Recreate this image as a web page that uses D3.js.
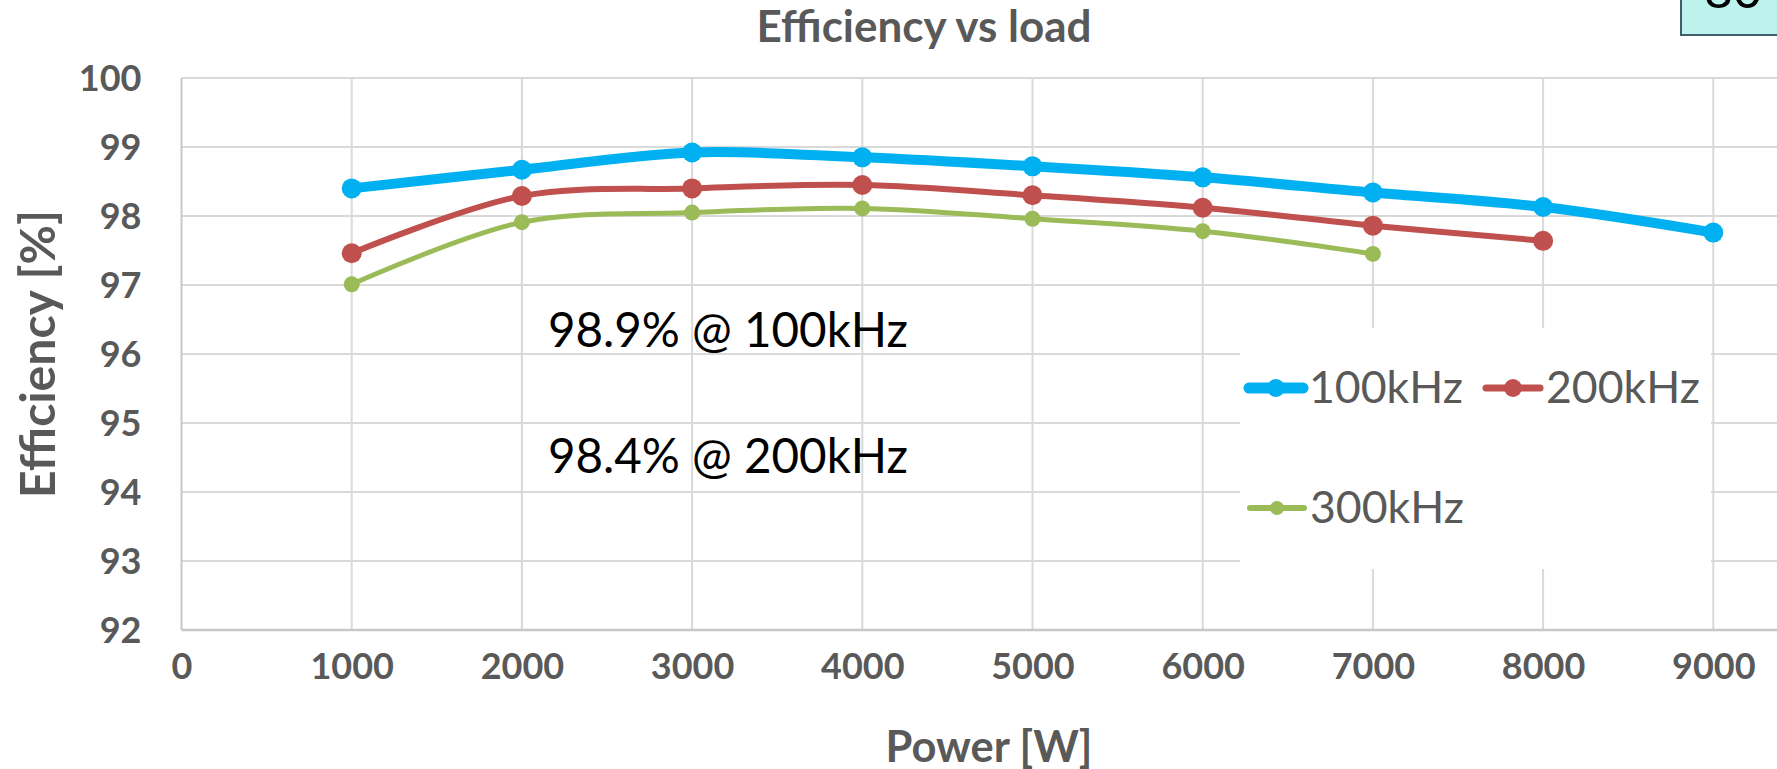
<!DOCTYPE html>
<html>
<head>
<meta charset="utf-8">
<script src="https://cdn.jsdelivr.net/npm/d3@7"></script>
<style>
  body { margin: 0; background: #fff; }
  svg { display: block; }
</style>
</head>
<body>
<div class="chart"></div>
<script>
// values
var powers = [1000, 2000, 3000, 4000, 5000, 6000, 7000, 8000, 9000];
var eff100 = [98.40, 98.67, 98.92, 98.85, 98.72, 98.56, 98.34, 98.13, 97.76];
var eff200 = [97.46, 98.29, 98.40, 98.45, 98.30, 98.12, 97.86, 97.64];
var eff300 = [97.01, 97.91, 98.05, 98.11, 97.96, 97.78, 97.45];
var seriesNames = ["100kHz", "200kHz", "300kHz"];
var xTicks = [0, 1000, 2000, 3000, 4000, 5000, 6000, 7000, 8000, 9000];
var yTicks = [92, 93, 94, 95, 96, 97, 98, 99, 100];
var notes = ["98.9% @ 100kHz", "98.4% @ 200kHz"];

var svgWidth = 1777;
var svgHeight = 769;

// plot box (window.top is taken, so use a margin object)
var plot = { left: 181.5, top: 78, bottom: 630 };
var colors = ["#00B0F0", "#C0504D", "#9BBB59"];
var widths = [10, 6, 5];
var radii = [10, 10, 8];
var gray = "#595959";

var svg = d3.select(".chart")
  .append("svg")
  .attr("width", svgWidth)
  .attr("height", svgHeight);

// shrink/grow a text so it takes the given width
function fit(sel, w) {
  var size = +sel.attr("font-size");
  var len = sel.node().getComputedTextLength();
  sel.attr("font-size", size * w / len);
  return sel;
}

var x = d3.scaleLinear()
  .domain([0, 10000])
  .range([plot.left, plot.left + 1702]);

var y = d3.scaleLinear()
  .domain([92, 100])
  .range([plot.bottom, plot.top]);

// grid
svg.append("g").selectAll("line")
  .data(yTicks.slice(1))
  .enter()
  .append("line")
  .attr("x1", plot.left).attr("x2", svgWidth)
  .attr("y1", d => y(d)).attr("y2", d => y(d))
  .attr("stroke", "#D9D9D9").attr("stroke-width", 2);

svg.append("g").selectAll("line")
  .data(xTicks.slice(1))
  .enter()
  .append("line")
  .attr("x1", d => x(d)).attr("x2", d => x(d))
  .attr("y1", plot.top).attr("y2", plot.bottom)
  .attr("stroke", "#D9D9D9").attr("stroke-width", 2);

// axis lines
svg.append("line")
  .attr("x1", plot.left).attr("x2", plot.left)
  .attr("y1", plot.top).attr("y2", plot.bottom)
  .attr("stroke", "#C8C8C8").attr("stroke-width", 2);
svg.append("line")
  .attr("x1", plot.left).attr("x2", svgWidth)
  .attr("y1", plot.bottom).attr("y2", plot.bottom)
  .attr("stroke", "#C8C8C8").attr("stroke-width", 2.5);

// tick labels via axes
var leftAxis = d3.axisLeft(y).tickValues(yTicks).tickSize(0).tickPadding(40);
var bottomAxis = d3.axisBottom(x).tickValues(xTicks).tickSize(0).tickPadding(42)
  .tickFormat(d3.format("d"));

var yAxisG = svg.append("g")
  .attr("transform", `translate(${plot.left},0)`)
  .call(leftAxis);
var xAxisG = svg.append("g")
  .attr("transform", `translate(0,${plot.bottom})`)
  .call(bottomAxis);

[yAxisG, xAxisG].forEach(function(g) {
  g.select(".domain").remove();
  g.selectAll("text")
    .attr("font-family", "Lato")
    .attr("font-weight", "bold")
    .attr("font-size", 36)
    .attr("fill", gray);
});
yAxisG.selectAll("text").attr("dy", "0.36em");
xAxisG.selectAll("text").attr("dy", "0.2em");

// legend background hides the grid behind it
svg.append("rect")
  .attr("x", 1240).attr("y", 328)
  .attr("width", 471).attr("height", 241)
  .attr("fill", "#fff");

// series
var series = [eff100, eff200, eff300];
var line = d3.line()
  .x(d => x(d.p))
  .y(d => y(d.v))
  .curve(d3.curveCatmullRom);

series.forEach(function(vals, i) {
  var pts = vals.map((v, j) => ({ p: powers[j], v: v }));
  svg.append("path")
    .datum(pts)
    .attr("d", line)
    .attr("fill", "none")
    .attr("stroke", colors[i])
    .attr("stroke-width", widths[i])
    .attr("stroke-linejoin", "round");
  svg.append("g").selectAll("circle")
    .data(pts)
    .enter()
    .append("circle")
    .attr("cx", d => x(d.p))
    .attr("cy", d => y(d.v))
    .attr("r", radii[i])
    .attr("fill", colors[i]);
});

// legend
var legendPos = [[1246, 388], [1483, 388], [1247, 508]];
seriesNames.forEach(function(name, i) {
  var lx = legendPos[i][0], ly = legendPos[i][1];
  var g = svg.append("g").attr("transform", `translate(${lx},${ly})`);
  g.append("line")
    .attr("x1", 3).attr("x2", 57)
    .attr("stroke", colors[i])
    .attr("stroke-width", widths[i] + 1)
    .attr("stroke-linecap", "round");
  g.append("circle")
    .attr("cx", 30)
    .attr("r", radii[i] - 1)
    .attr("fill", colors[i]);
  var t = g.append("text")
    .attr("x", 63)
    .attr("y", 15)
    .attr("font-family", "Lato")
    .attr("font-size", 44)
    .attr("fill", gray)
    .text(name);
  fit(t, 154);
});

// notes
notes.forEach(function(n, i) {
  var t = svg.append("text")
    .attr("x", 548)
    .attr("y", i == 0 ? 347 : 473)
    .attr("font-family", "Lato")
    .attr("font-size", 44)
    .attr("fill", "#000")
    .text(n);
  fit(t, 360);
});

// titles
var title = svg.append("text")
  .attr("x", 924)
  .attr("y", 42)
  .attr("text-anchor", "middle")
  .attr("font-family", "Lato")
  .attr("font-weight", "bold")
  .attr("font-size", 40)
  .attr("fill", gray)
  .text("Efficiency vs load");
fit(title, 335);

var xTitle = svg.append("text")
  .attr("x", 989)
  .attr("y", 762)
  .attr("text-anchor", "middle")
  .attr("font-family", "Lato")
  .attr("font-weight", "bold")
  .attr("font-size", 40)
  .attr("fill", gray)
  .text("Power [W]");
fit(xTitle, 207);

var yTitle = svg.append("text")
  .attr("transform", "translate(55,354) rotate(-90)")
  .attr("text-anchor", "middle")
  .attr("font-family", "Lato")
  .attr("font-weight", "bold")
  .attr("font-size", 44)
  .attr("fill", gray)
  .text("Efficiency [%]");
fit(yTitle, 288);

// box cut off at the top right corner
svg.append("rect")
  .attr("x", 1681).attr("y", -20)
  .attr("width", 120).attr("height", 55)
  .attr("fill", "#BDF3EC")
  .attr("stroke", "#3E5F6A")
  .attr("stroke-width", 2);
svg.append("text")
  .attr("x", 1704)
  .attr("y", 8)
  .attr("font-family", "Lato")
  .attr("font-size", 50)
  .attr("fill", "#000")
  .text("80");
</script>
</body>
</html>
